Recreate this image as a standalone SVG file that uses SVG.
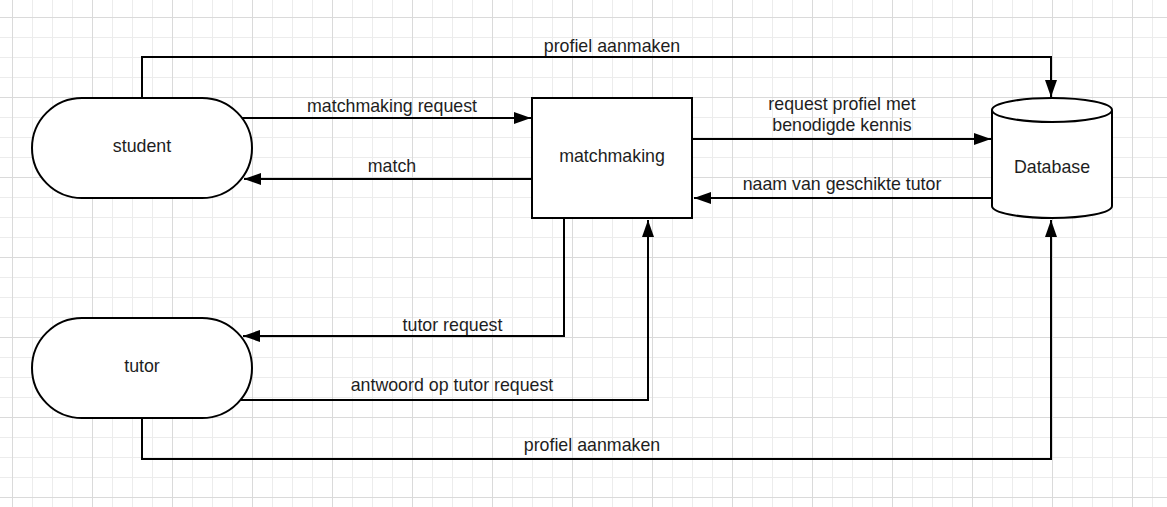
<svg xmlns="http://www.w3.org/2000/svg" width="1167" height="507" viewBox="0 0 1167 507">
  <style>
    .shape { fill: #ffffff; stroke: #000000; stroke-width: 2; }
    .conn { fill: none; stroke: #000000; stroke-width: 2; }
    .lbl { font-family: "Liberation Sans", Arial, sans-serif; font-size: 17.8px; fill: #1e1e1e; text-anchor: middle; }
  </style>
  <defs>
    <pattern id="grid" x="12" y="17" width="80" height="80" patternUnits="userSpaceOnUse">
      <rect x="0" y="0" width="80" height="80" fill="#ffffff"/>
      <rect x="20" y="0" width="1" height="80" fill="#ececec"/>
      <rect x="40" y="0" width="1" height="80" fill="#ececec"/>
      <rect x="60" y="0" width="1" height="80" fill="#ececec"/>
      <rect x="0" y="20" width="80" height="1" fill="#ececec"/>
      <rect x="0" y="40" width="80" height="1" fill="#ececec"/>
      <rect x="0" y="60" width="80" height="1" fill="#ececec"/>
      <rect x="0" y="0" width="1" height="80" fill="#dadada"/>
      <rect x="0" y="0" width="80" height="1" fill="#dadada"/>
    </pattern>
    <marker id="arrow" markerUnits="userSpaceOnUse" markerWidth="18" markerHeight="14" refX="17" refY="6.5" orient="auto">
      <path d="M0,0.5 L17,6.5 L0,12.5 Z" fill="#000000"/>
    </marker>
  </defs>

  <rect x="0" y="0" width="1167" height="507" fill="url(#grid)"/>

  <g id="connectors">
    <path class="conn" d="M142,98 V57 H1051 V97" marker-end="url(#arrow)"/>
    <path class="conn" d="M242,118 H531" marker-end="url(#arrow)"/>
    <path class="conn" d="M532,179 H244" marker-end="url(#arrow)"/>
    <path class="conn" d="M692,139 H991" marker-end="url(#arrow)"/>
    <path class="conn" d="M992,198 H694" marker-end="url(#arrow)"/>
    <path class="conn" d="M564,218 V336 H243" marker-end="url(#arrow)"/>
    <path class="conn" d="M241,400 H648 V220" marker-end="url(#arrow)"/>
    <path class="conn" d="M142,418 V459 H1051 V220" marker-end="url(#arrow)"/>

    <text class="lbl" x="612" y="52">profiel aanmaken</text>
    <text class="lbl" x="392" y="112">matchmaking request</text>
    <text class="lbl" x="392" y="172">match</text>
    <text class="lbl" x="842" y="110">request profiel met</text>
    <text class="lbl" x="842" y="131">benodigde kennis</text>
    <text class="lbl" x="842" y="190">naam van geschikte tutor</text>
    <text class="lbl" x="452.5" y="331">tutor request</text>
    <text class="lbl" x="452" y="391">antwoord op tutor request</text>
    <text class="lbl" x="592" y="451">profiel aanmaken</text>
  </g>

  <g id="student">
    <rect class="shape" x="32" y="98" width="220" height="100" rx="50" ry="50"/>
    <text class="lbl" x="142" y="152">student</text>
  </g>

  <g id="tutor">
    <rect class="shape" x="32" y="318" width="220" height="100" rx="50" ry="50"/>
    <text class="lbl" x="142" y="372">tutor</text>
  </g>

  <g id="matchmaking">
    <rect class="shape" x="532" y="98" width="160" height="120"/>
    <text class="lbl" x="612" y="162">matchmaking</text>
  </g>

  <g id="database">
    <path class="shape" d="M992,110 A60,12 0 0 1 1112,110 V206 A60,12 0 0 1 992,206 Z"/>
    <path class="shape" fill="none" d="M992,110 A60,12 0 0 0 1112,110"/>
    <text class="lbl" x="1052" y="173">Database</text>
  </g>
</svg>
